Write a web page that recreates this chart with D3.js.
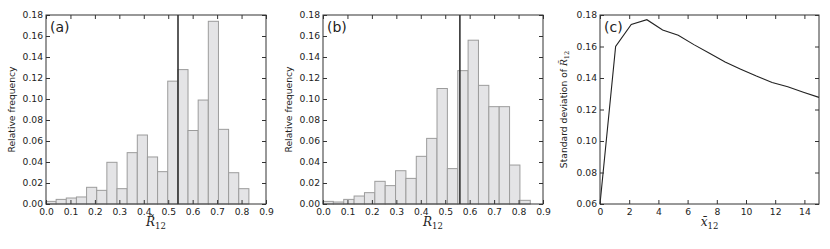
<!DOCTYPE html>
<html>
<head>
<meta charset="utf-8">
<script src="https://cdn.jsdelivr.net/npm/d3@7"></script>
<style>
  body { margin: 0; background: #fff; }
  svg { display: block; }
  text { font-family: "DejaVu Sans", sans-serif; fill: #222; }
</style>
</head>
<body>
<svg id="chart" width="830" height="249"></svg>
<script>
// Panel (a): histogram of R-tilde_12, 20 bins starting at 0
const binStartA = 0.0;
const binWidthA = 0.0415;
const freqA = [0.0025, 0.0044, 0.0057, 0.0067, 0.0159, 0.0130, 0.0397, 0.0146, 0.0489, 0.0657,
               0.0448, 0.0308, 0.1170, 0.1280, 0.0700, 0.0990, 0.1740, 0.0711, 0.0298, 0.0146];
const meanA = 0.54;

// Panel (b): histogram of R_12
const binStartB = 0.0;
const binWidthB = 0.0424;
const freqB = [0.0025, 0.0019, 0.0044, 0.0076, 0.0108, 0.0216, 0.0175, 0.0317, 0.0244, 0.0454,
               0.0625, 0.1100, 0.0337, 0.1270, 0.1560, 0.1130, 0.0927, 0.0927, 0.0371, 0.0035];
const meanB = 0.56;

// Panel (c): standard deviation vs x-bar_12
const xbar = [0, 1.07, 2.14, 3.21, 4.29, 5.36, 6.43, 7.5, 8.57, 9.64, 10.71, 11.79, 12.86, 13.93, 15];
const sdev = [0.060, 0.160, 0.174, 0.177, 0.1705, 0.1672, 0.1612, 0.1557, 0.1502, 0.1456,
              0.1412, 0.1372, 0.1345, 0.1310, 0.1277];

// tick values
const histXTicks = [0, 0.1, 0.2, 0.3, 0.4, 0.5, 0.6, 0.7, 0.8, 0.9];
const histYTicks = [0, 0.02, 0.04, 0.06, 0.08, 0.10, 0.12, 0.14, 0.16, 0.18];
const sdXTicks = [0, 2, 4, 6, 8, 10, 12, 14];
const sdYTicks = [0.06, 0.08, 0.10, 0.12, 0.14, 0.16, 0.18];

const svg = d3.select("#chart");
const plotTop = 15, plotBottom = 204;

// draws the frame with inward ticks on all four sides
function frame(g, x, y, xTicks, yTicks, xFmt, yFmt) {
  const w = x.range()[1], h = y.range()[0];
  const tl = 4;
  g.append("g")
    .attr("transform", `translate(0,${h})`)
    .call(d3.axisBottom(x).tickValues(xTicks).tickFormat(xFmt).tickSizeInner(-tl).tickSizeOuter(0).tickPadding(4))
    .call(a => a.select(".domain").remove());
  g.append("g")
    .call(d3.axisTop(x).tickValues(xTicks).tickFormat("").tickSizeInner(-tl).tickSizeOuter(0))
    .call(a => a.select(".domain").remove());
  g.append("g")
    .call(d3.axisLeft(y).tickValues(yTicks).tickFormat(yFmt).tickSizeInner(-tl).tickSizeOuter(0).tickPadding(3))
    .call(a => a.select(".domain").remove());
  g.append("g")
    .attr("transform", `translate(${w},0)`)
    .call(d3.axisRight(y).tickValues(yTicks).tickFormat("").tickSizeInner(-tl).tickSizeOuter(0))
    .call(a => a.select(".domain").remove());
  g.selectAll(".tick line").attr("stroke", "#333");
  g.selectAll(".tick text").style("font-family", "DejaVu Sans").style("font-size", "9.2px").attr("fill", "#222");
  g.append("rect")
    .attr("width", w).attr("height", h)
    .attr("fill", "none").attr("stroke", "#333").attr("stroke-width", 1);
}

function histogram(left, freq, start, width, mean, panel, xlabelTxt) {
  const w = 220, h = plotBottom - plotTop;
  const g = svg.append("g").attr("transform", `translate(${left},${plotTop})`);
  const x = d3.scaleLinear().domain([0, 0.9]).range([0, w]);
  const y = d3.scaleLinear().domain([0, 0.18]).range([h, 0]);
  const bins = freq.map((f, i) => ({ x0: start + i * width, x1: start + (i + 1) * width, f }));

  g.selectAll(".bar").data(bins).enter().append("rect")
    .attr("class", "bar")
    .attr("x", d => x(d.x0))
    .attr("width", d => x(d.x1) - x(d.x0))
    .attr("y", d => y(d.f))
    .attr("height", d => y(0) - y(d.f))
    .attr("fill", "#e4e4e6")
    .attr("stroke", "#9c9c9c")
    .attr("stroke-width", 1);

  g.append("line")
    .attr("x1", x(mean)).attr("x2", x(mean))
    .attr("y1", y(0.18)).attr("y2", y(0))
    .attr("stroke", "#333").attr("stroke-width", 1.6);

  frame(g, x, y, histXTicks, histYTicks, d3.format(".1f"), d3.format(".2f"));

  g.append("text").attr("x", 4).attr("y", 17).style("font-size", "14px").text(panel);

  g.append("text")
    .attr("transform", `translate(-31,${h / 2}) rotate(-90)`)
    .attr("text-anchor", "middle")
    .style("font-size", "9.2px")
    .text("Relative frequency");

  const xl = g.append("text")
    .attr("x", w / 2).attr("y", h + 22)
    .attr("text-anchor", "middle")
    .style("font-family", "DejaVu Serif").style("font-size", "12px");
  xl.append("tspan").style("font-style", "italic").style("font-family", "DejaVu Serif").text(xlabelTxt);
  xl.append("tspan").attr("dy", 3).style("font-size", "8.5px").style("font-family", "DejaVu Serif").text("12");
}

histogram(46, freqA, binStartA, binWidthA, meanA, "(a)", "R\u0303");
histogram(323, freqB, binStartB, binWidthB, meanB, "(b)", "R");

// panel (c)
{
  const left = 600, w = 219, h = plotBottom - plotTop;
  const g = svg.append("g").attr("transform", `translate(${left},${plotTop})`);
  const x = d3.scaleLinear().domain([0, 15]).range([0, w]);
  const y = d3.scaleLinear().domain([0.06, 0.18]).range([h, 0]);
  const pts = xbar.map((v, i) => [v, sdev[i]]);

  g.append("path")
    .datum(pts)
    .attr("d", d3.line().x(d => x(d[0])).y(d => y(d[1])))
    .attr("fill", "none").attr("stroke", "#222").attr("stroke-width", 1.1);

  frame(g, x, y, sdXTicks, sdYTicks, d3.format("d"), d3.format(".2f"));

  g.append("text").attr("x", 4).attr("y", 17).style("font-size", "14px").text("(c)");

  const yl = g.append("text")
    .attr("transform", `translate(-33,${h / 2}) rotate(-90)`)
    .attr("text-anchor", "middle")
    .style("font-size", "9.2px");
  yl.append("tspan").text("Standard deviation of ");
  yl.append("tspan").style("font-family", "DejaVu Serif").style("font-style", "italic").text("R\u0303");
  yl.append("tspan").attr("dy", 2).style("font-size", "6.5px").style("font-family", "DejaVu Serif").text("12");

  const xl = g.append("text")
    .attr("x", w / 2).attr("y", h + 22)
    .attr("text-anchor", "middle")
    .style("font-family", "DejaVu Serif").style("font-size", "12px");
  xl.append("tspan").style("font-style", "italic").style("font-family", "DejaVu Serif").text("x\u0304");
  xl.append("tspan").attr("dy", 3).style("font-size", "8.5px").style("font-family", "DejaVu Serif").text("12");
}
</script>
</body>
</html>
